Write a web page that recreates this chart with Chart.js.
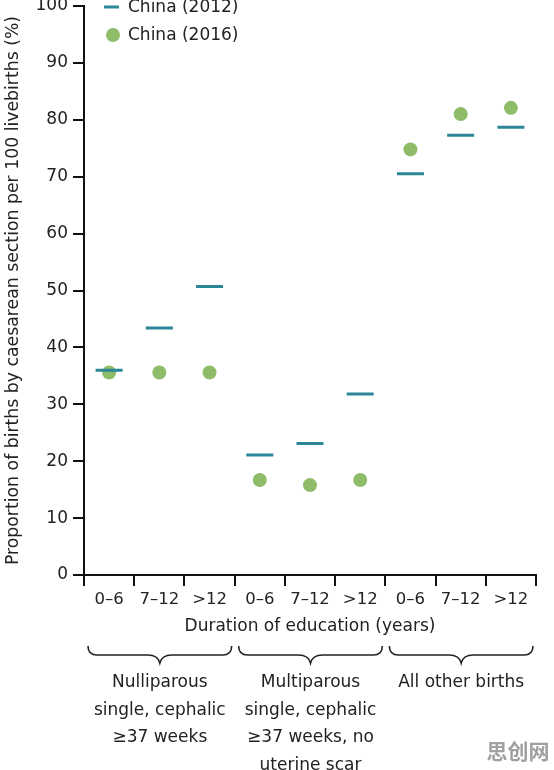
<!DOCTYPE html>
<html>
<head>
<meta charset="utf-8">
<script src="https://cdn.jsdelivr.net/npm/chart.js@4.4.1/dist/chart.umd.min.js"></script>
<style>
  html, body { margin: 0; padding: 0; background: #fff; }
  #wrap { width: 554px; height: 770px; position: relative; }
</style>
</head>
<body>
<div id="wrap"><canvas id="chart"></canvas></div>
<script>
const categories = ["0–6", "7–12", ">12", "0–6", "7–12", ">12", "0–6", "7–12", ">12"];
const china2012 = [36.0, 43.4, 50.7, 21.1, 23.1, 31.8, 70.5, 77.3, 78.7];
const china2016 = [35.6, 35.6, 35.6, 16.7, 15.8, 16.7, 74.8, 81.0, 82.1];
const groupLabels = [
  ["Nulliparous", "single, cephalic", "≥37 weeks"],
  ["Multiparous", "single, cephalic", "≥37 weeks, no", "uterine scar"],
  ["All other births"]
];
const groupSize = 3;

const TEAL = "#2a8797";
const GREEN = "#8fbc69";
const FONT = "'DejaVu Sans', sans-serif";

// legend, group brackets, group names and watermark
const extras = {
  id: "extras",
  afterDraw(chart) {
    const ctx = chart.ctx;
    const area = chart.chartArea;
    const x = chart.scales.x;
    ctx.save();

    // legend
    const ds = chart.data.datasets;
    ctx.font = "17px " + FONT;
    ctx.textBaseline = "middle";
    ctx.textAlign = "left";
    ctx.fillStyle = "#222";
    ctx.strokeStyle = ds[0].borderColor;
    ctx.lineWidth = 3;
    ctx.beginPath();
    ctx.moveTo(area.left + 20, area.top + 1);
    ctx.lineTo(area.left + 35, area.top + 1);
    ctx.stroke();
    ctx.fillText(ds[0].label, area.left + 44, area.top + 2);
    ctx.fillStyle = ds[1].backgroundColor;
    ctx.beginPath();
    ctx.arc(area.left + 29, area.top + 29, 7, 0, Math.PI * 2);
    ctx.fill();
    ctx.fillStyle = "#222";
    ctx.fillText(ds[1].label, area.left + 44, area.top + 30);

    // brackets
    const half = (x.getPixelForValue(1) - x.getPixelForValue(0)) / 2;
    const yTop = 646, yMid = 655, yTip = 663;
    groupLabels.forEach((lines, g) => {
      const l = x.getPixelForValue(g * groupSize) - half + 4;
      const r = x.getPixelForValue(g * groupSize + groupSize - 1) + half - 3;
      const c = (l + r) / 2;
      ctx.strokeStyle = "#222";
      ctx.lineWidth = 1.6;
      ctx.beginPath();
      ctx.moveTo(l, yTop);
      ctx.quadraticCurveTo(l, yMid, l + 9, yMid);
      ctx.lineTo(c - 12, yMid);
      ctx.quadraticCurveTo(c - 2, yMid, c, yTip);
      ctx.quadraticCurveTo(c + 2, yMid, c + 12, yMid);
      ctx.lineTo(r - 9, yMid);
      ctx.quadraticCurveTo(r, yMid, r, yTop);
      ctx.stroke();

      ctx.fillStyle = "#222";
      ctx.font = "17px " + FONT;
      ctx.textAlign = "center";
      lines.forEach((t, i) => ctx.fillText(t, c, 683 + i * 27.5));
    });

    // watermark
    ctx.font = "bold 21px 'Noto Sans CJK SC', sans-serif";
    ctx.fillStyle = "#a0a0a0";
    ctx.textAlign = "center";
    ctx.fillText("思创网", 518, 751);
    ctx.restore();
  }
};

new Chart(document.getElementById("chart"), {
  type: "line",
  data: {
    labels: categories,
    datasets: [
      {
        label: "China (2012)",
        data: china2012,
        showLine: false,
        pointStyle: "line",
        pointRadius: 13.5,
        pointBorderWidth: 3,
        borderColor: TEAL,
        backgroundColor: TEAL
      },
      {
        label: "China (2016)",
        data: china2016,
        showLine: false,
        pointStyle: "circle",
        pointRadius: 7,
        pointBorderWidth: 0,
        borderColor: GREEN,
        backgroundColor: GREEN
      }
    ]
  },
  options: {
    responsive: true,
    maintainAspectRatio: false,
    animation: false,
    events: [],
    layout: { autoPadding: false, padding: { top: 6, right: 18, bottom: 133, left: 0 } },
    plugins: { legend: { display: false }, tooltip: { enabled: false } },
    scales: {
      x: {
        offset: true,
        border: { color: "#111", width: 2 },
        grid: { offset: true, drawOnChartArea: false, drawTicks: true, tickLength: 11, color: "#111", lineWidth: 2 },
        ticks: { color: "#222", font: { family: FONT, size: 16.5 }, padding: 4, maxRotation: 0, autoSkip: false },
        title: { display: true, text: "Duration of education (years)", color: "#222", font: { family: FONT, size: 17 }, padding: { top: 0, bottom: 0 } },
        afterFit(s) { s.height = 62; s.paddingLeft = 0; s.paddingRight = 0; }
      },
      y: {
        min: 0,
        max: 100,
        border: { color: "#111", width: 2 },
        grid: { drawOnChartArea: false, drawTicks: true, tickLength: 11, color: "#111", lineWidth: 2 },
        ticks: { stepSize: 10, color: "#222", font: { family: FONT, size: 17 }, padding: 5 },
        title: { display: true, text: "Proportion of births by caesarean section per 100 livebirths (%)", color: "#222", font: { family: FONT, size: 17.3 }, padding: { top: 3, bottom: 0 } },
        afterFit(s) { s.width = 84; s.paddingTop = 0; s.paddingBottom = 0; }
      }
    }
  },
  plugins: [extras]
});
</script>
</body>
</html>
